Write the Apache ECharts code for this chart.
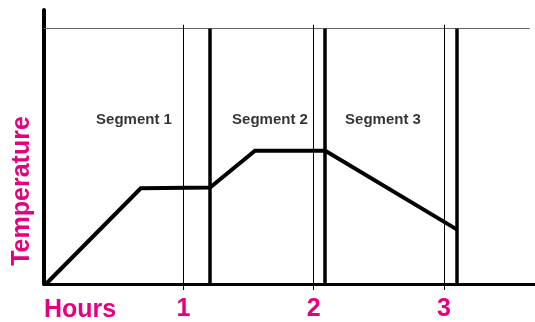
<!DOCTYPE html>
<html lang="en">
<head>
    <meta charset="UTF-8">
    <title>Temperature segments</title>
    <style>
        html, body { margin: 0; padding: 0; background: #fff; }
    </style>
</head>
<body>
<div id="m1" style="width: 535px;height: 322px"></div>
<script src="https://cdn.jsdelivr.net/npm/echarts@6/dist/echarts.min.js"></script>
<script>
    // profile of the temperature (x in hours, y in arbitrary units, top line = 100)
    var hours = [-0.055, 0.673, 1.205, 1.55, 2.09, 3.099];
    var temps = [0, 37.5, 37.8, 52.2, 52.2, 21.4];

    // hour ticks and where each segment ends
    var hourTicks = [1, 2, 3];
    var segmentEnds = [1.204, 2.089, 3.102];

    var segNames = ['Segment 1', 'Segment 2', 'Segment 3'];
    var segLabelX = [0.621, 1.665, 2.533];
    var segLabelY = 64.4;

    var topValue = 100;
    var pink = '#e5007d';
    var font = 'Liberation Sans, Arial, Helvetica, sans-serif';

    var my1 = echarts.init(document.getElementById("m1"));

    var boundaryLines = [];
    for (var i = 0; i < segmentEnds.length; i++) {
        boundaryLines.push([{coord: [segmentEnds[i], 0], lineStyle: {color: '#000', width: 3.5, type: 'solid'}},
            {coord: [segmentEnds[i], topValue]}]);
    }
    var hourLines = [];
    for (var j = 0; j < hourTicks.length; j++) {
        hourLines.push([{coord: [hourTicks[j], 0], lineStyle: {color: '#000', width: 1, type: 'solid'}},
            {coord: [hourTicks[j], 101.5]}]);
    }
    var topLine = [[{coord: [-0.07, topValue], lineStyle: {color: '#666', width: 1, type: 'solid'}},
        {coord: [3.66, topValue]}]];

    var labelData = [];
    for (var k = 0; k < segNames.length; k++) {
        labelData.push({name: segNames[k], value: [segLabelX[k], segLabelY]});
    }

    var option1 = {
        backgroundColor: '#fff',
        animation: false,
        grid: {left: 44, right: 0, top: 10, bottom: 34},
        xAxis: {
            type: 'value',
            min: -0.07,
            max: 3.7,
            axisLine: {lineStyle: {color: '#000', width: 3}},
            axisTick: {show: true, customValues: hourTicks, length: 6, lineStyle: {color: '#000', width: 1}},
            axisLabel: {
                customValues: hourTicks,
                margin: 13,
                color: pink, fontSize: 25, fontWeight: 'bold', fontFamily: font
            },
            splitLine: {show: false}
        },
        yAxis: {
            type: 'value',
            min: 0,
            max: 107.3,
            axisLine: {show: true, onZero: false, lineStyle: {color: '#000', width: 4}},
            axisTick: {show: false},
            axisLabel: {show: false},
            splitLine: {show: false}
        },
        graphic: [{
            type: 'text',
            x: 22,
            y: 191,
            rotation: Math.PI / 2,
            style: {
                text: 'Temperature',
                fill: pink,
                font: 'bold 25px ' + font,
                align: 'center',
                verticalAlign: 'middle'
            }
        }, {
            type: 'text',
            x: 44,
            y: 310,
            style: {
                text: 'Hours',
                fill: pink,
                font: 'bold 25px ' + font,
                align: 'left',
                verticalAlign: 'middle'
            }
        }],
        series: [
            {
                name: 'Temperature',
                type: 'line',
                data: hours.map(function (h, i) { return [h, temps[i]]; }),
                symbol: 'none',
                lineStyle: {color: '#000', width: 4, join: 'miter'},
                z: 5,
                markLine: {
                    silent: true,
                    symbol: 'none',
                    label: {show: false},
                    data: topLine.concat(hourLines).concat(boundaryLines)
                }
            },
            {
                type: 'scatter',
                data: labelData,
                symbolSize: 0,
                silent: true,
                label: {
                    show: true,
                    position: 'inside',
                    formatter: '{b}',
                    color: '#000',
                    fontSize: 15,
                    fontWeight: 'bold',
                    fontFamily: font
                }
            }
        ]
    };
    my1.setOption(option1);
</script>
</body>
</html>
